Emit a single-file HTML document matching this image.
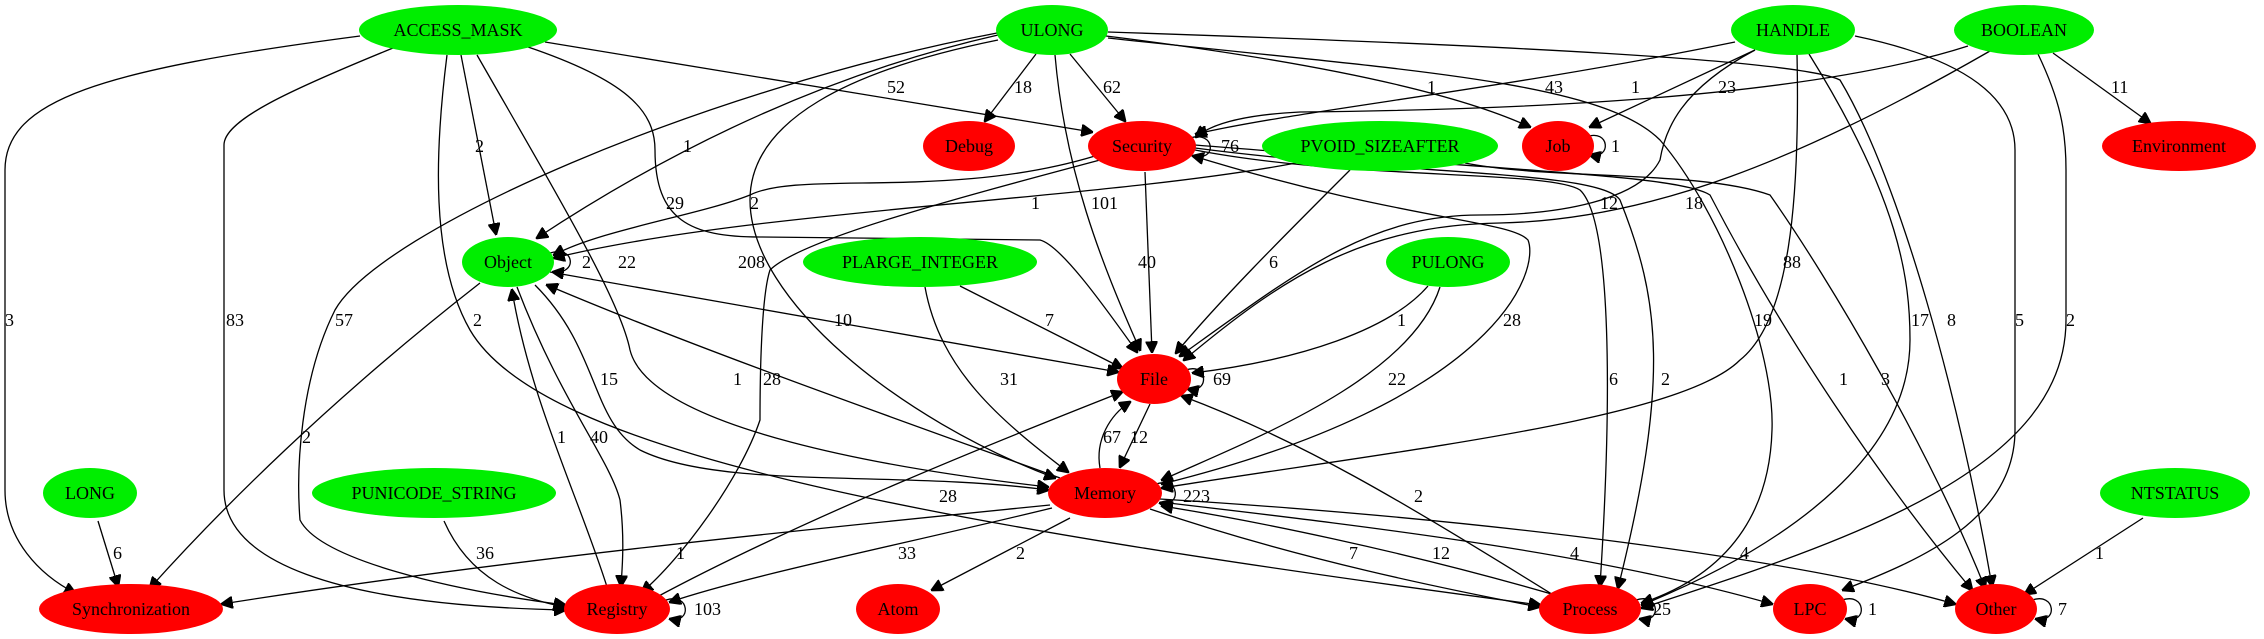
<!DOCTYPE html>
<html><head><meta charset="utf-8"><style>
html,body{margin:0;padding:0;background:#fff;}
svg{display:block;}
text{font-family:"Liberation Serif",serif;font-size:18px;fill:#000;}
.n{text-anchor:middle;dominant-baseline:central;}
path{fill:none;stroke:#000;stroke-width:1.3;}
</style></head><body>
<svg width="2264" height="639" viewBox="0 0 2264 639" xmlns="http://www.w3.org/2000/svg">
<defs><marker id="a" viewBox="0 0 10 10" refX="9" refY="5" markerWidth="12" markerHeight="12" markerUnits="userSpaceOnUse" orient="auto"><path d="M0,0 L10,5 L0,10 z" style="fill:#000;stroke:#000"/></marker></defs>
<g marker-end="url(#a)">
<!-- ACCESS_MASK -->
<path d="M360,36 C100,70 5,100 5,170 L5,490 C5,540 40,575 75,593"/>
<path d="M393,48 C290,90 224,120 224,145 L224,490 C224,560 330,605 565,610"/>
<path d="M461,55 L496,234"/>
<path d="M477,55 C560,200 620,300 630,350 C650,430 900,470 1048,487"/>
<path d="M447,55 C435,150 430,260 470,330 C540,450 900,520 1540,605"/>
<path d="M528,47 C625,80 655,110 655,150 C655,220 690,237 760,237 L1040,240 C1060,245 1100,300 1137,352"/>
<path d="M545,42 L1092,132"/>
<!-- ULONG -->
<path d="M998,35 C800,80 640,170 537,238"/>
<path d="M997,33 C700,90 380,230 335,310 C300,380 296,470 300,520 C320,560 450,590 565,605"/>
<path d="M998,40 C850,70 750,120 750,200 C750,300 900,420 1055,478"/>
<path d="M1036,54 L985,121"/>
<path d="M1055,55 C1065,170 1100,260 1140,350"/>
<path d="M1070,54 L1125,121"/>
<path d="M1106,36 C1300,60 1450,90 1530,127"/>
<path d="M1108,38 C1400,70 1600,80 1660,140 C1720,210 1775,350 1772,430 C1770,500 1740,570 1642,603"/>
<path d="M1108,32 C1500,45 1800,60 1840,80 C1900,180 1960,400 1992,586"/>
<!-- HANDLE -->
<path d="M1735,42 C1500,90 1300,110 1196,134"/>
<path d="M1755,50 L1590,127"/>
<path d="M1755,50 C1680,90 1665,130 1660,160 C1640,200 1560,215 1480,215 C1370,215 1300,270 1180,356"/>
<path d="M1797,54 C1800,200 1790,320 1740,360 C1680,420 1400,450 1162,488"/>
<path d="M1809,54 C1900,200 1910,280 1910,340 C1910,450 1800,540 1642,605"/>
<path d="M1855,36 C1970,60 2015,100 2015,150 L2015,430 C2015,520 1920,560 1843,590"/>
<!-- BOOLEAN -->
<path d="M1968,46 C1800,100 1500,110 1300,112 C1240,115 1210,125 1196,137"/>
<path d="M1990,51 C1800,160 1650,220 1500,223 C1360,225 1280,280 1184,360"/>
<path d="M2038,54 C2060,100 2066,130 2066,170 L2066,320 C2066,470 1850,540 1642,608"/>
<path d="M2053,53 L2150,123"/>
<!-- PVOID -->
<path d="M1296,163 C1100,200 750,210 554,258"/>
<path d="M1350,170 C1280,240 1220,300 1176,353"/>
<path d="M1465,163 C1550,180 1700,170 1770,195 C1830,280 1930,450 1985,588"/>
<!-- Security -->
<path d="M1095,156 C950,200 800,170 750,195 C700,215 600,230 554,255"/>
<path d="M1100,160 C950,200 800,240 770,270 C760,300 760,400 760,420 C740,480 680,560 642,592"/>
<path d="M1145,172 L1152,352"/>
<path d="M1190,155 C1400,220 1510,220 1528,240 C1540,270 1500,400 1162,484"/>
<path d="M1195,150 C1350,180 1550,170 1580,190 C1612,220 1612,400 1600,586"/>
<path d="M1195,148 C1400,175 1600,170 1620,200 C1660,300 1670,380 1618,588"/>
<path d="M1195,145 C1500,170 1680,175 1710,195 C1780,330 1880,480 1972,590"/>
<!-- PLARGE / PULONG -->
<path d="M960,286 L1122,368"/>
<path d="M925,287 C940,370 1000,420 1068,472"/>
<path d="M1428,286 C1390,330 1300,360 1193,373"/>
<path d="M1440,287 C1410,380 1250,440 1162,480"/>
<!-- Object -->
<path d="M480,283 C330,400 220,510 150,588"/>
<path d="M550,272 L1118,372"/>
<path d="M535,285 C600,350 590,420 640,450 C720,490 900,470 1048,490"/>
<path d="M517,287 C560,400 610,460 620,500 C625,540 622,570 621,586"/>
<path d="M1060,478 C900,420 700,350 547,285"/>
<path d="M608,590 C580,500 530,400 512,290"/>
<!-- File / Memory -->
<path d="M1150,404 L1120,467"/>
<path d="M1100,468 C1095,440 1110,415 1130,402"/>
<path d="M655,598 C800,520 1000,440 1122,392"/>
<path d="M1555,596 C1400,500 1300,440 1182,396"/>
<path d="M1050,505 C800,530 500,560 222,604"/>
<path d="M1052,508 C900,545 750,575 670,602"/>
<path d="M1070,518 L932,590"/>
<path d="M1150,509 C1300,560 1450,590 1539,607"/>
<path d="M1555,595 C1400,550 1250,520 1162,506"/>
<path d="M1160,502 C1400,530 1600,555 1772,604"/>
<path d="M1160,499 C1500,520 1800,560 1955,604"/>
<path d="M2143,518 L2025,594"/>
<path d="M98,521 L118,586"/>
<path d="M444,521 C470,580 520,598 564,607"/>
<!-- self loops -->
<path d="M550,253 C575,245 578,275 553,272"/>
<path d="M1190,138 C1215,130 1218,162 1193,156"/>
<path d="M1586,137 C1610,128 1612,160 1590,155"/>
<path d="M1186,370 C1208,362 1210,394 1188,389"/>
<path d="M1156,484 C1180,476 1182,508 1160,503"/>
<path d="M1636,600 C1660,592 1662,624 1640,619"/>
<path d="M1842,600 C1866,592 1868,624 1846,619"/>
<path d="M2032,600 C2056,592 2058,624 2036,619"/>
<path d="M666,600 C690,592 692,624 670,619"/>
</g>
<!-- nodes -->
<g>
<ellipse cx="458" cy="30" rx="99" ry="25" fill="#00ee00"/><text class="n" x="458" y="30">ACCESS_MASK</text>
<ellipse cx="1052" cy="30" rx="56" ry="25" fill="#00ee00"/><text class="n" x="1052" y="30">ULONG</text>
<ellipse cx="1793" cy="30" rx="62" ry="25" fill="#00ee00"/><text class="n" x="1793" y="30">HANDLE</text>
<ellipse cx="2024" cy="30" rx="70" ry="25" fill="#00ee00"/><text class="n" x="2024" y="30">BOOLEAN</text>
<ellipse cx="969" cy="146" rx="46" ry="25" fill="#ff0000"/><text class="n" x="969" y="146">Debug</text>
<ellipse cx="1142" cy="146" rx="54" ry="25" fill="#ff0000"/><text class="n" x="1142" y="146">Security</text>
<ellipse cx="1380" cy="146" rx="118" ry="25" fill="#00ee00"/><text class="n" x="1380" y="146">PVOID_SIZEAFTER</text>
<ellipse cx="1558" cy="146" rx="36" ry="25" fill="#ff0000"/><text class="n" x="1558" y="146">Job</text>
<ellipse cx="2179" cy="146" rx="77" ry="25" fill="#ff0000"/><text class="n" x="2179" y="146">Environment</text>
<ellipse cx="508" cy="262" rx="46" ry="25" fill="#00ee00"/><text class="n" x="508" y="262">Object</text>
<ellipse cx="920" cy="262" rx="117" ry="25" fill="#00ee00"/><text class="n" x="920" y="262">PLARGE_INTEGER</text>
<ellipse cx="1448" cy="262" rx="62" ry="25" fill="#00ee00"/><text class="n" x="1448" y="262">PULONG</text>
<ellipse cx="1154" cy="379" rx="37" ry="25" fill="#ff0000"/><text class="n" x="1154" y="379">File</text>
<ellipse cx="90" cy="493" rx="47" ry="25" fill="#00ee00"/><text class="n" x="90" y="493">LONG</text>
<ellipse cx="434" cy="493" rx="122" ry="25" fill="#00ee00"/><text class="n" x="434" y="493">PUNICODE_STRING</text>
<ellipse cx="1105" cy="493" rx="57" ry="25" fill="#ff0000"/><text class="n" x="1105" y="493">Memory</text>
<ellipse cx="2175" cy="493" rx="75" ry="25" fill="#00ee00"/><text class="n" x="2175" y="493">NTSTATUS</text>
<ellipse cx="131" cy="609" rx="92" ry="25" fill="#ff0000"/><text class="n" x="131" y="609">Synchronization</text>
<ellipse cx="617" cy="609" rx="53" ry="25" fill="#ff0000"/><text class="n" x="617" y="609">Registry</text>
<ellipse cx="898" cy="609" rx="42" ry="25" fill="#ff0000"/><text class="n" x="898" y="609">Atom</text>
<ellipse cx="1590" cy="609" rx="51" ry="25" fill="#ff0000"/><text class="n" x="1590" y="609">Process</text>
<ellipse cx="1810" cy="609" rx="37" ry="25" fill="#ff0000"/><text class="n" x="1810" y="609">LPC</text>
<ellipse cx="1996" cy="609" rx="41" ry="25" fill="#ff0000"/><text class="n" x="1996" y="609">Other</text>
</g>
<!-- edge labels -->
<g>
<text x="5" y="326">3</text><text x="226" y="326">83</text><text x="335" y="326">57</text><text x="473" y="326">2</text>
<text x="475" y="152">2</text><text x="683" y="152">1</text><text x="666" y="209">29</text><text x="750" y="209">2</text>
<text x="582" y="268">2</text><text x="618" y="268">22</text><text x="738" y="268">208</text>
<text x="600" y="385">15</text><text x="733" y="385">1</text><text x="763" y="385">28</text>
<text x="302" y="443">2</text><text x="557" y="443">1</text><text x="590" y="443">40</text>
<text x="113" y="559">6</text><text x="476" y="559">36</text><text x="676" y="559">1</text>
<text x="694" y="615">103</text>
<text x="887" y="93">52</text><text x="1014" y="93">18</text><text x="1103" y="93">62</text><text x="1427" y="93">1</text>
<text x="1221" y="152">76</text><text x="1031" y="209">1</text><text x="1091" y="209">101</text>
<text x="1138" y="268">40</text><text x="1269" y="268">6</text>
<text x="834" y="326">10</text><text x="1045" y="326">7</text><text x="1397" y="326">1</text>
<text x="1000" y="385">31</text><text x="1388" y="385">22</text><text x="1213" y="385">69</text>
<text x="1103" y="443">67</text><text x="1130" y="443">12</text>
<text x="939" y="502">28</text><text x="1414" y="502">2</text><text x="1183" y="502">223</text>
<text x="898" y="559">33</text><text x="1016" y="559">2</text><text x="1349" y="559">7</text><text x="1432" y="559">12</text>
<text x="1570" y="559">4</text><text x="1740" y="559">4</text><text x="2095" y="559">1</text>
<text x="1545" y="93">43</text><text x="1631" y="93">1</text><text x="1718" y="93">23</text><text x="2111" y="93">11</text>
<text x="1611" y="152">1</text>
<text x="1600" y="209">12</text><text x="1685" y="209">18</text>
<text x="1783" y="268">88</text><text x="1503" y="326">28</text>
<text x="1754" y="326">19</text><text x="1911" y="326">17</text><text x="1947" y="326">8</text><text x="2015" y="326">5</text><text x="2066" y="326">2</text>
<text x="1609" y="385">6</text><text x="1661" y="385">2</text><text x="1839" y="385">1</text><text x="1881" y="385">3</text>
<text x="1653" y="615">25</text><text x="1868" y="615">1</text><text x="2058" y="615">7</text>
</g>
</svg>
</body></html>
